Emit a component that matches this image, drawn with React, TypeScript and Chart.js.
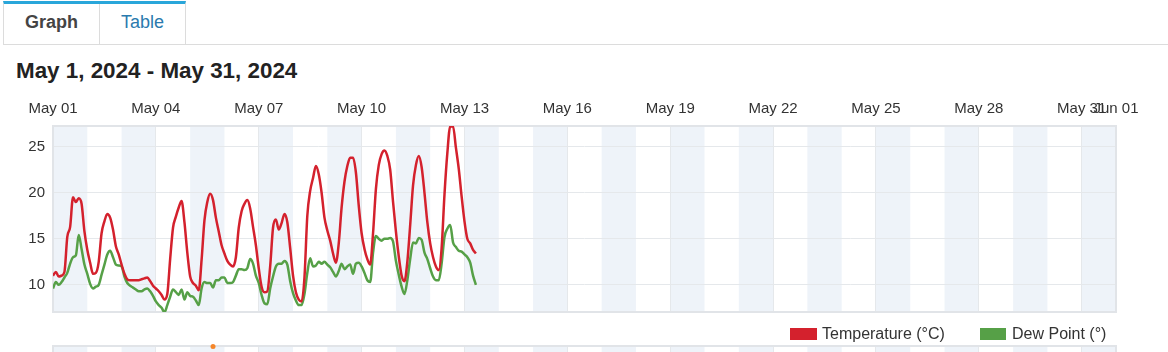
import React, { useEffect, useRef } from 'react';
import { Chart, registerables } from 'chart.js';

Chart.register(...registerables);

const FONT = '"Liberation Sans", Arial, Helvetica, sans-serif';

// Observations every 2 hours from May 1, 00:00
const sampleStepHours = 2;

const temperature = [
  11.0, 11.4, 10.9, 11.0, 11.4, 15.2, 16.3, 19.5, 19.0, 19.4, 18.8, 15.8, // May 1
  13.8, 12.4, 11.2, 11.3, 12.5, 15.6, 16.9, 17.7, 17.3, 16.0, 14.2, 13.3, // May 2
  12.2, 11.2, 10.6, 10.5, 10.5, 10.5, 10.5, 10.6, 10.7, 10.8, 10.4, 9.9, // May 3
  9.6, 9.3, 8.9, 8.4, 9.0, 12.8, 16.2, 17.4, 18.4, 19.1, 16.8, 13.5, // May 4
  10.9, 10.2, 9.9, 9.4, 12.7, 17.0, 19.0, 19.9, 19.2, 17.3, 15.8, 14.3, // May 5
  13.4, 12.6, 12.2, 12.0, 13.0, 16.2, 18.0, 18.8, 19.2, 18.3, 16.3, 14.3, // May 6
  11.8, 9.8, 9.2, 9.3, 12.0, 16.2, 17.1, 16.0, 16.7, 17.7, 16.8, 14.0, // May 7
  11.0, 9.2, 8.4, 8.2, 10.8, 17.5, 20.2, 21.6, 22.9, 22.0, 20.0, 17.3, // May 8
  15.9, 14.8, 13.4, 12.4, 14.5, 18.4, 21.2, 22.9, 23.8, 23.8, 22.2, 18.6, // May 9
  15.6, 13.9, 12.8, 12.2, 15.6, 20.4, 23.0, 24.2, 24.6, 24.0, 22.5, 19.0, // May 10
  15.8, 13.1, 11.0, 10.4, 12.5, 16.5, 20.8, 23.0, 24.0, 22.8, 20.0, 16.8, // May 11
  14.5, 13.0, 12.0, 11.6, 14.0, 19.8, 24.3, 27.2, 27.2, 24.9, 22.6, 19.6, // May 12
  16.9, 15.0, 14.5, 13.8, 13.4, // May 13
];

const dewPoint = [
  9.6, 10.3, 10.0, 10.3, 10.8, 11.3, 12.3, 13.0, 13.2, 15.4, 13.9, 12.2, // May 1
  11.2, 10.1, 9.6, 9.8, 10.0, 11.1, 12.2, 13.3, 13.7, 13.0, 12.2, 12.1, // May 2
  12.0, 10.9, 10.2, 9.9, 9.7, 9.5, 9.3, 9.3, 9.5, 9.6, 9.3, 8.8, // May 3
  8.2, 7.8, 7.5, 7.0, 7.8, 8.7, 9.5, 9.2, 8.9, 9.5, 8.4, 9.2, // May 4
  8.8, 8.7, 8.3, 7.8, 9.6, 10.3, 10.2, 10.2, 9.7, 10.5, 10.5, 10.8, // May 5
  10.8, 10.2, 10.2, 10.3, 11.0, 11.7, 11.7, 11.6, 11.8, 12.8, 12.3, 11.0, // May 6
  10.2, 8.9, 8.0, 7.9, 9.6, 10.9, 12.0, 12.3, 12.3, 12.6, 12.2, 10.4, // May 7
  9.1, 8.3, 7.8, 7.8, 9.0, 11.3, 12.9, 12.0, 12.1, 12.5, 12.3, 12.5, // May 8
  12.2, 11.9, 11.4, 10.9, 11.5, 12.3, 11.7, 12.0, 12.2, 11.2, 12.3, 12.4, // May 9
  12.0, 11.3, 10.5, 10.3, 13.5, 15.3, 15.0, 14.8, 15.0, 15.0, 15.1, 14.7, // May 10
  12.6, 11.1, 9.8, 9.0, 10.5, 12.8, 14.6, 14.5, 15.1, 14.9, 13.5, 12.8, // May 11
  11.8, 10.9, 10.5, 10.5, 12.3, 15.2, 16.1, 16.5, 14.6, 14.1, 13.7, 13.6, // May 12
  13.3, 13.0, 12.4, 11.0, 10.0, // May 13
];

const tickDays = [0, 3, 6, 9, 12, 15, 18, 21, 24, 27, 30, 31];
const tickLabels = [
  'May 01', 'May 04', 'May 07', 'May 10', 'May 13', 'May 16',
  'May 19', 'May 22', 'May 25', 'May 28', 'May 31', 'Jun 01',
];
const yTicks = [10, 15, 20, 25];
const monthDays = 31;

// lower panel (only its top edge is visible)
const lowerHours = [112];
const lowerValues = [9.9];

const SHADE = '#eef3f9';
const GRID = '#e5e8eb';
const BORDER = '#e1e4e8';

const shadePlugin = {
  id: 'dayShade',
  beforeDraw(chart: any) {
    const { ctx, chartArea: a, scales } = chart;
    const x = scales.x;
    ctx.save();
    ctx.fillStyle = SHADE;
    for (let d = 0; d < monthDays; d += 2) {
      const l = x.getPixelForValue(d * 24);
      const r = x.getPixelForValue((d + 1) * 24);
      ctx.fillRect(l, a.top, r - l, a.bottom - a.top);
    }
    ctx.restore();
  },
};

const boxPlugin = {
  id: 'plotBox',
  beforeDatasetsDraw(chart: any) {
    const { ctx, chartArea: a } = chart;
    ctx.save();
    ctx.strokeStyle = BORDER;
    ctx.lineWidth = 2;
    ctx.strokeRect(a.left, a.top, a.right - a.left, a.bottom - a.top);
    ctx.restore();
  },
};

function toPoints(values: number[]) {
  return values.map((v, i) => ({ x: i * sampleStepHours, y: v }));
}

function MainChart() {
  const ref = useRef<HTMLCanvasElement | null>(null);
  useEffect(() => {
    if (!ref.current) return;
    const chart = new Chart(ref.current, {
      type: 'line',
      data: {
        datasets: [
          {
            label: 'Temperature (°C)',
            data: toPoints(temperature),
            borderColor: '#d4212d',
            borderWidth: 2.5,
            pointRadius: 0,
            cubicInterpolationMode: 'monotone',
          },
          {
            label: 'Dew Point (°)',
            data: toPoints(dewPoint),
            borderColor: '#56a047',
            borderWidth: 2.5,
            pointRadius: 0,
            cubicInterpolationMode: 'monotone',
          },
        ],
      },
      options: {
        responsive: false,
        animation: false,
        events: [],
        layout: { padding: { left: 0, right: 52, top: 0, bottom: 0 } },
        plugins: { legend: { display: false }, tooltip: { enabled: false } },
        scales: {
          x: {
            type: 'linear',
            position: 'top',
            min: 0,
            max: monthDays * 24,
            afterBuildTicks: (s: any) => {
              s.ticks = tickDays.map((d) => ({ value: d * 24 }));
            },
            afterFit: (s: any) => {
              s.height = 36;
            },
            ticks: {
              autoSkip: false,
              maxRotation: 0,
              padding: 8,
              color: '#333',
              font: { family: FONT, size: 15 },
              callback: (_v: any, i: number) => tickLabels[i],
            },
            grid: { color: GRID, drawTicks: false },
            border: { display: false },
          },
          y: {
            type: 'linear',
            min: 7.05,
            max: 27.25,
            afterBuildTicks: (s: any) => {
              s.ticks = yTicks.map((v) => ({ value: v }));
            },
            afterFit: (s: any) => {
              s.width = 53;
            },
            ticks: {
              padding: 8,
              color: '#333',
              font: { family: FONT, size: 15 },
            },
            grid: { color: GRID, drawTicks: false },
            border: { display: false },
          },
        },
      },
      plugins: [shadePlugin, boxPlugin],
    } as any);
    return () => chart.destroy();
  }, []);
  return (
    <canvas
      ref={ref}
      width={1168}
      height={239}
      style={{ position: 'absolute', left: 0, top: 90, width: 1168, height: 239 }}
    />
  );
}

function LowerChart() {
  const ref = useRef<HTMLCanvasElement | null>(null);
  useEffect(() => {
    if (!ref.current) return;
    const chart = new Chart(ref.current, {
      type: 'line',
      data: {
        datasets: [
          {
            label: 'Precipitation',
            data: lowerHours.map((h, i) => ({ x: h, y: lowerValues[i] })),
            showLine: false,
            pointRadius: 2.5,
            pointBackgroundColor: '#f5862a',
            pointBorderWidth: 0,
            clip: false,
          },
        ],
      },
      options: {
        responsive: false,
        animation: false,
        events: [],
        layout: { padding: { left: 53, right: 52, top: 8, bottom: 0 } },
        plugins: { legend: { display: false }, tooltip: { enabled: false } },
        scales: {
          x: {
            type: 'linear',
            min: 0,
            max: monthDays * 24,
            afterBuildTicks: (s: any) => {
              s.ticks = tickDays.map((d) => ({ value: d * 24 }));
            },
            afterFit: (s: any) => {
              s.height = 0;
            },
            ticks: { display: false },
            grid: { color: GRID, drawTicks: false },
            border: { display: false },
          },
          y: { display: false, min: 0, max: 10 },
        },
      },
      plugins: [shadePlugin, boxPlugin],
    } as any);
    return () => chart.destroy();
  }, []);
  return (
    <canvas
      ref={ref}
      width={1168}
      height={60}
      style={{ position: 'absolute', left: 0, top: 338, width: 1168, height: 60 }}
    />
  );
}

export default function App() {
  return (
    <div
      style={{
        position: 'absolute',
        left: 0,
        top: 0,
        width: 1168,
        height: 352,
        overflow: 'hidden',
        background: '#fff',
        fontFamily: FONT,
      }}
    >
      {/* tabs */}
      <div style={{ position: 'absolute', left: 3, top: 44, width: 1165, height: 1, background: '#dcdcdc' }} />
      <div
        style={{
          position: 'absolute',
          left: 3,
          top: 1,
          width: 97,
          height: 43,
          boxSizing: 'border-box',
          borderTop: '3px solid #29a6da',
          borderLeft: '1px solid #dcdcdc',
          borderRight: '1px solid #dcdcdc',
        }}
      />
      <div
        style={{
          position: 'absolute',
          left: 3,
          top: 13,
          width: 97,
          textAlign: 'center',
          fontSize: 18,
          lineHeight: '18px',
          fontWeight: 'bold',
          color: '#444',
        }}
      >
        Graph
      </div>
      <div
        style={{
          position: 'absolute',
          left: 99,
          top: 1,
          width: 87,
          height: 43,
          boxSizing: 'border-box',
          borderTop: '3px solid #29a6da',
          borderRight: '1px solid #dcdcdc',
        }}
      />
      <div
        style={{
          position: 'absolute',
          left: 99,
          top: 13,
          width: 87,
          textAlign: 'center',
          fontSize: 18,
          lineHeight: '18px',
          color: '#2a7aae',
        }}
      >
        Table
      </div>

      {/* title */}
      <div
        style={{
          position: 'absolute',
          left: 16,
          top: 60,
          fontSize: 22.4,
          lineHeight: '22px',
          fontWeight: 'bold',
          color: '#222',
          whiteSpace: 'nowrap',
        }}
      >
        May 1, 2024 - May 31, 2024
      </div>

      <MainChart />

      {/* legend */}
      <div style={{ position: 'absolute', left: 790, top: 328, width: 27, height: 12, background: '#d4212d' }} />
      <div
        style={{
          position: 'absolute',
          left: 822,
          top: 325,
          fontSize: 16,
          lineHeight: '18px',
          color: '#333',
          whiteSpace: 'nowrap',
        }}
      >
        Temperature (°C)
      </div>
      <div style={{ position: 'absolute', left: 980, top: 328, width: 26, height: 12, background: '#56a047' }} />
      <div
        style={{
          position: 'absolute',
          left: 1012,
          top: 325,
          fontSize: 16,
          lineHeight: '18px',
          color: '#333',
          whiteSpace: 'nowrap',
        }}
      >
        Dew Point (°)
      </div>

      <LowerChart />
    </div>
  );
}
